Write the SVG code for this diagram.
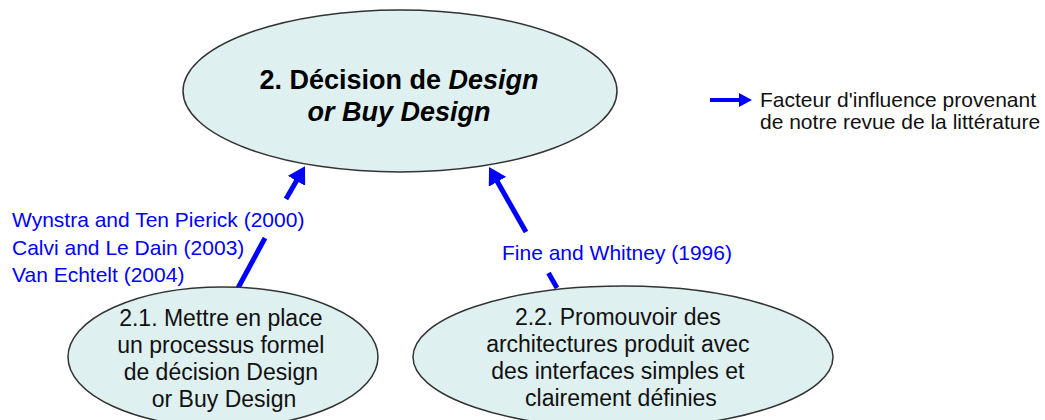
<svg xmlns="http://www.w3.org/2000/svg" width="1045" height="420" viewBox="0 0 1045 420">
  <style>
    .node { fill: #dff0f0; stroke: #333333; stroke-width: 1.5; }
    .t { font-family: "Liberation Sans", Arial, sans-serif; fill: #000000; }
    .main { font-size: 27px; font-weight: bold; }
    .sub { font-size: 23px; fill: #111111; }
    .cite { font-family: "Liberation Sans", Arial, sans-serif; font-size: 21px; fill: #0000ff; }
    .legend { font-size: 21px; fill: #111111; }
    .conn { stroke: #0000ff; stroke-width: 5; fill: none; }
  </style>
  <defs>
    <marker id="arrow" viewBox="0 0 17 20" markerWidth="17" markerHeight="20" refX="7" refY="10" orient="auto" markerUnits="userSpaceOnUse">
      <path d="M0,0 L17,10 L0,20 z" fill="#0000ff"/>
    </marker>
  </defs>
  <rect width="1045" height="420" fill="#ffffff"/>

  <g id="connectors">
    <line class="conn" x1="238" y1="288" x2="265" y2="238"/>
    <line class="conn" x1="286" y1="199" x2="300" y2="174.8" marker-end="url(#arrow)"/>
    <line class="conn" x1="557" y1="288" x2="548.5" y2="273"/>
    <line class="conn" x1="526" y1="232" x2="494" y2="175.7" marker-end="url(#arrow)"/>
  </g>

  <g id="node-main">
    <ellipse class="node" cx="400" cy="91" rx="217" ry="81"/>
    <text class="t main" text-anchor="middle" x="399" y="89">2. Décision de <tspan font-style="italic">Design</tspan></text>
    <text class="t main" text-anchor="middle" x="399" y="121" font-style="italic">or Buy Design</text>
  </g>

  <g id="node-2-1">
    <ellipse class="node" cx="223" cy="357" rx="155" ry="70"/>
    <text class="t sub" text-anchor="middle" x="224">
      <tspan x="224" y="326">2.1. Mettre en place</tspan>
      <tspan x="224" y="353">un processus formel</tspan>
      <tspan x="224" y="380">de décision Design</tspan>
      <tspan x="224" y="407">or Buy Design</tspan>
    </text>
  </g>

  <g id="node-2-2">
    <ellipse class="node" cx="623" cy="357" rx="210" ry="71"/>
    <text class="t sub" text-anchor="middle" x="621">
      <tspan x="621" y="325">2.2. Promouvoir des</tspan>
      <tspan x="621" y="352">architectures produit avec</tspan>
      <tspan x="621" y="379">des interfaces simples et</tspan>
      <tspan x="621" y="406">clairement définies</tspan>
    </text>
  </g>

  <g id="label-left">
    <text class="cite" x="12" y="227">Wynstra and Ten Pierick (2000)</text>
    <text class="cite" x="12" y="255">Calvi and Le Dain (2003)</text>
    <text class="cite" x="12" y="282">Van Echtelt (2004)</text>
  </g>

  <g id="label-right">
    <text class="cite" x="502" y="260">Fine and Whitney (1996)</text>
  </g>

  <g id="legend">
    <line x1="710" y1="100" x2="742" y2="100" stroke="#0000ff" stroke-width="4"/>
    <path d="M739,93 L752,100 L739,107 z" fill="#0000ff"/>
    <text class="t legend" x="760" y="107">Facteur d'influence provenant</text>
    <text class="t legend" x="760" y="129">de notre revue de la littérature</text>
  </g>
</svg>
